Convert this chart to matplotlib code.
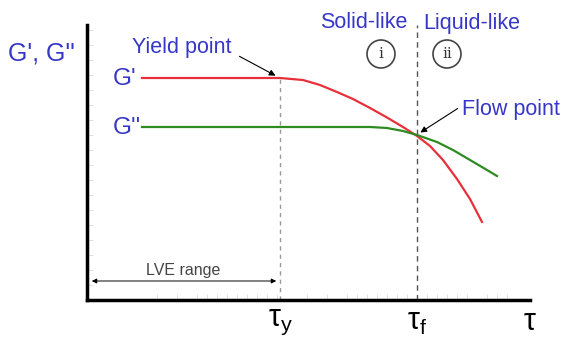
import numpy as np
import matplotlib.pyplot as plt

# curve points (x, y in arbitrary units, y up)
gp_x = [55, 193, 216, 233, 250, 266, 283, 300, 316, 330, 343, 356, 370, 383, 395]
gp_y = [222, 222, 220, 215, 208, 201, 192, 182.5, 173, 164, 154, 140, 121, 101, 78]
gpp_x = [55, 283, 300, 316, 330, 350, 366, 383, 400, 410]
gpp_y = [173, 173, 172, 169, 165, 158, 150, 140, 130, 124]

tau_y, tau_f, tau_end = 193, 330, 443
tick_labels = [r"$\tau_\mathrm{y}$", r"$\tau_\mathrm{f}$", r"$\tau$"]

BLUE = "#3636c8"
RED = "#e8303a"
GREEN = "#2e8b22"

plt.rcParams["font.family"] = ["Liberation Sans", "DejaVu Sans"]
plt.rcParams["mathtext.fontset"] = "custom"
plt.rcParams["mathtext.rm"] = "Liberation Sans"
plt.rcParams["mathtext.it"] = "Liberation Sans"

fig = plt.figure(figsize=(5.65, 3.43), dpi=100)
ax = fig.add_axes([87 / 565, 43 / 343, 443 / 565, 275 / 343])
ax.set_xlim(0, 443)
ax.set_ylim(0, 275)

ax.plot(gp_x, gp_y, color=RED, lw=1.6, solid_joinstyle="round")
ax.plot(gpp_x, gpp_y, color=GREEN, lw=1.6, solid_joinstyle="round")

# dashed guides
ax.plot([tau_y, tau_y], [0, 222], color="#999999", ls=(0, (3, 3)), lw=1)
ax.plot([tau_f, tau_f], [0, 275], color="#555555", ls=(0, (4, 3)), lw=1,
        clip_on=False)

# spines
for s in ("top", "right"):
    ax.spines[s].set_visible(False)
ax.spines["left"].set_linewidth(2.5)
ax.spines["bottom"].set_linewidth(2.5)

ax.set_xticks([tau_y, tau_f, tau_end])
ax.set_xticklabels(tick_labels, fontsize=22)
ax.tick_params(axis="x", length=0, pad=5)
ax.set_yticks([])
# faint minor ticks
ax.set_xticks([70, 90, 110, 120, 130, 140, 150, 160, 170, 180, 190,
               220, 240, 260, 270, 280, 290, 300, 310, 320,
               340, 350, 360, 370, 380, 400, 410, 420], minor=True)
ax.set_yticks(np.arange(15, 275, 15), minor=True)
ax.tick_params(which="minor", direction="in", length=4, color="#dddddd")

# text
ax.text(-79, 247, "G', G''", color=BLUE, fontsize=18, ha="left", va="center",
        clip_on=False)
ax.text(26, 221, "G'", color=BLUE, fontsize=17.5, ha="left", va="center")
ax.text(26, 172, "G''", color=BLUE, fontsize=17.5, ha="left", va="center")
ax.text(45, 252, "Yield point", color=BLUE, fontsize=15.5, ha="left", va="center")
ax.annotate("", xy=(tau_y - 2, 223), xytext=(150, 245),
            arrowprops=dict(arrowstyle="-|>", color="black", lw=0.8,
                            mutation_scale=9))
ax.text(375, 190, "Flow point", color=BLUE, fontsize=15.5, ha="left", va="center",
        clip_on=False)
ax.annotate("", xy=(tau_f + 1, 166), xytext=(373, 193),
            arrowprops=dict(arrowstyle="-|>", color="black", lw=0.8,
                            mutation_scale=9))
ax.text(320, 277, "Solid-like", color=BLUE, fontsize=15.5, ha="right", va="center",
        clip_on=False)
ax.text(336, 277, "Liquid-like", color=BLUE, fontsize=15.5, ha="left", va="center",
        clip_on=False)
for cx, lab in [(294, "i"), (360, "ii")]:
    ax.add_patch(plt.Circle((cx, 246), 14, fill=False, color="#444444", lw=1.2,
                            clip_on=False))
    ax.text(cx, 246, lab, fontsize=11, ha="center", va="center",
            family="DejaVu Serif", color="#333333")

ax.text(96, 30, "LVE range", color="#444444", fontsize=11.5, ha="center",
        va="center")
ax.annotate("", xy=(2, 19), xytext=(tau_y - 1, 19),
            arrowprops=dict(arrowstyle="<|-|>", color="black", lw=0.7,
                            mutation_scale=7))

fig.savefig("out.png", dpi=100)
